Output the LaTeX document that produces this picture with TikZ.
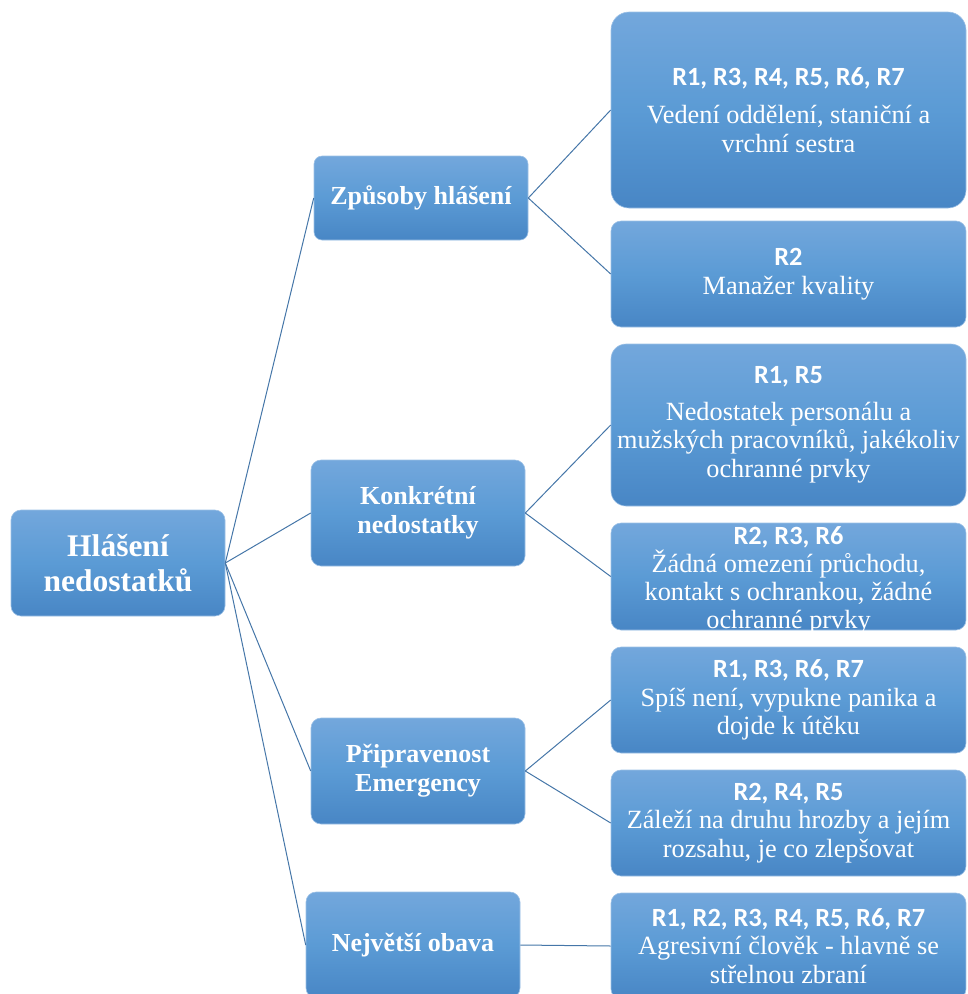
\documentclass[tikz,border=0pt]{standalone}
\usepackage{fontspec}
\setmainfont{Liberation Serif}
\newfontfamily\labfont{Carlito}
\definecolor{boxtop}{RGB}{115,167,220}
\definecolor{boxmid}{RGB}{91,155,213}
\definecolor{boxbot}{RGB}{72,134,197}
\definecolor{linkcol}{RGB}{69,118,168}
\tikzset{
  tbox/.style={rectangle, rounded corners=10pt, inner sep=2pt,
    top color=boxtop, bottom color=boxbot, middle color=boxmid,
    draw=boxtop!70!white, line width=0.6pt, text=white, align=center},
  headbox/.style={tbox, minimum width=214pt, minimum height=106pt,
    font=\bfseries\fontsize{26}{29}\selectfont},
  leafbox/.style={tbox, minimum width=355pt, minimum height=106pt,
    font=\fontsize{26.3}{28.5}\selectfont},
  leaftext/.style={text=white, align=center, inner sep=0pt,
    font=\fontsize{26.3}{28}\selectfont},
  link/.style={draw=linkcol, line width=1pt}
}
\newcommand{\rlab}[1]{{\labfont\bfseries #1}}
\begin{document}
\begin{tikzpicture}[x=1pt,y=-1pt]
\useasboundingbox (0,0) rectangle (968,994);
\clip (0,0) rectangle (968,994);
% root
\node[headbox, font=\bfseries\fontsize{31.5}{35}\selectfont] (root) at (118,563) {Hlášení\\nedostatků};
% first level
\node[headbox, minimum height=84pt, rounded corners=8pt] (zp) at (421,198) {Způsoby hlášení};
\node[headbox] (ko) at (418,513) {Konkrétní\\nedostatky};
\node[headbox] (pr) at (418,771) {Připravenost\\Emergency};
\node[headbox] (ne) at (413,945) {Největší obava};
% second level
\node[leafbox, minimum height=196pt, rounded corners=18pt] (b1) at (788.5,110)
  {\rlab{R1, R3, R4, R5, R6, R7}\\[10pt]Vedení oddělení, staniční a\\vrchní sestra};
\node[leafbox] (b2) at (788.5,274) {\rlab{R2}\\Manažer kvality};
\node[leafbox, minimum height=162pt, rounded corners=15pt] (b3) at (788.5,425)
  {\rlab{R1, R5}\\[8pt]Nedostatek personálu a\\mužských pracovníků, jakékoliv\\ochranné prvky};
% this box's text runs past its lower edge, so it is set apart from the box
\node[leafbox, minimum height=107pt] (b4) at (788.5,576.5) {};
\node[leaftext] (b4text) at (788.5,580)
  {\rlab{R2, R3, R6}\\Žádná omezení průchodu,\\kontakt s ochrankou, žádné\\ochranné prvky};
\node[leafbox] (b5) at (788.5,700) {\rlab{R1, R3, R6, R7}\\Spíš není, vypukne panika a\\dojde k útěku};
\node[leafbox] (b6) at (788.5,823) {\rlab{R2, R4, R5}\\Záleží na druhu hrozby a jejím\\rozsahu, je co zlepšovat};
\node[leafbox] (b7) at (788.5,946) {\rlab{R1, R2, R3, R4, R5, R6, R7}\\Agresivní člověk - hlavně se\\střelnou zbraní};
% connectors
\draw[link] (root.east) -- (zp.west);
\draw[link] (root.east) -- (ko.west);
\draw[link] (root.east) -- (pr.west);
\draw[link] (root.east) -- (ne.west);
\draw[link] (zp.east) -- (b1.west);
\draw[link] (zp.east) -- (b2.west);
\draw[link] (ko.east) -- (b3.west);
\draw[link] (ko.east) -- (b4.west);
\draw[link] (pr.east) -- (b5.west);
\draw[link] (pr.east) -- (b6.west);
\draw[link] (ne.east) -- (b7.west);
\end{tikzpicture}
\end{document}
